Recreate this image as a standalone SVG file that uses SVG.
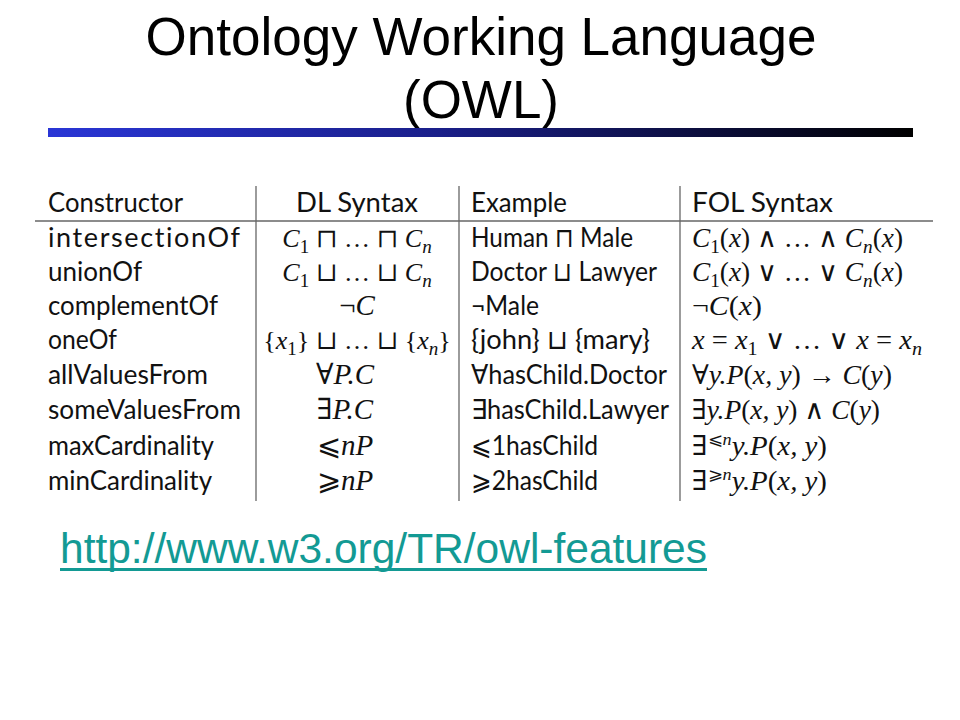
<svg xmlns="http://www.w3.org/2000/svg" width="960" height="720" viewBox="0 0 960 720">
<defs>
<linearGradient id="bar" x1="0" y1="0" x2="1" y2="0">
<stop offset="0" stop-color="#2a36d6"/>
<stop offset="0.45" stop-color="#1a1f8a"/>
<stop offset="1" stop-color="#000000"/>
</linearGradient>
<style>
.title{font-family:"Liberation Sans",Arial,sans-serif;font-size:53px;fill:#000;text-anchor:middle}
.s{font-family:Lato,"DejaVu Sans",sans-serif;font-size:27px;fill:#111;font-variant-ligatures:none;font-feature-settings:"liga" 0,"dlig" 0}
.m{font-family:"Liberation Serif","DejaVu Serif",serif;font-size:27px;font-style:italic;fill:#111}
.md{font-size:26px}
.mb{font-size:29px}
.u{font-style:normal}
.sub{font-size:19px;font-style:normal}
.subi{font-size:19px;font-style:italic}
.sup{font-size:17px}
.c{text-anchor:middle}
.rule{stroke:#666;stroke-width:1.3;fill:none}
.link{font-family:"Liberation Sans",Arial,sans-serif;font-size:42px;fill:#139a94}
</style>
</defs>
<rect width="960" height="720" fill="#fff"/>
<g id="title">
<text class="title" x="481" y="55">Ontology Working Language</text>
<text class="title" x="481" y="118">(OWL)</text>
</g>
<rect id="titlebar" x="48" y="128" width="865" height="9" fill="url(#bar)"/>
<g id="table">
<g id="grid">
<line class="rule" x1="35" y1="221" x2="933" y2="221"/>
<line class="rule" x1="256" y1="186" x2="256" y2="501"/>
<line class="rule" x1="459" y1="186" x2="459" y2="501"/>
<line class="rule" x1="680" y1="186" x2="680" y2="501"/>
</g>
<g id="header">
<text class="s" x="48" y="212" textLength="135" lengthAdjust="spacingAndGlyphs">Constructor</text>
<text class="s" x="296" y="212" textLength="122" lengthAdjust="spacingAndGlyphs">DL Syntax</text>
<text class="s" x="471" y="212" textLength="96" lengthAdjust="spacingAndGlyphs">Example</text>
<text class="s" x="692" y="212" textLength="141" lengthAdjust="spacingAndGlyphs">FOL Syntax</text>
</g>
<g id="col-constructor">
<text class="s" x="48" y="247" textLength="192" lengthAdjust="spacing">intersectionOf</text>
<text class="s" x="48" y="281" textLength="94" lengthAdjust="spacingAndGlyphs">unionOf</text>
<text class="s" x="48" y="315" textLength="170" lengthAdjust="spacingAndGlyphs">complementOf</text>
<text class="s" x="48" y="349" textLength="69" lengthAdjust="spacingAndGlyphs">oneOf</text>
<text class="s" x="48" y="384" textLength="160" lengthAdjust="spacingAndGlyphs">allValuesFrom</text>
<text class="s" x="48" y="419" textLength="193" lengthAdjust="spacingAndGlyphs">someValuesFrom</text>
<text class="s" x="48" y="455" textLength="166" lengthAdjust="spacingAndGlyphs">maxCardinality</text>
<text class="s" x="48" y="490" textLength="164" lengthAdjust="spacingAndGlyphs">minCardinality</text>
</g>
<g id="col-dl">
<text class="m md c" x="357" y="247">C<tspan class="sub" dy="6">1</tspan><tspan class="u" dy="-6"> ⊓ … ⊓ </tspan>C<tspan class="subi" dy="6">n</tspan></text>
<text class="m md c" x="357" y="281">C<tspan class="sub" dy="6">1</tspan><tspan class="u" dy="-6"> ⊔ … ⊔ </tspan>C<tspan class="subi" dy="6">n</tspan></text>
<text class="m mb c" x="357" y="315"><tspan class="u">¬</tspan>C</text>
<text class="m md c" x="357" y="349"><tspan class="u">{</tspan>x<tspan class="sub" dy="6">1</tspan><tspan class="u" dy="-6">} ⊔ … ⊔ {</tspan>x<tspan class="subi" dy="6">n</tspan><tspan class="u" dy="-6">}</tspan></text>
<text class="m mb c" x="345" y="384"><tspan class="u">∀</tspan>P.C</text>
<text class="m mb c" x="345" y="419"><tspan class="u">∃</tspan>P.C</text>
<text class="m mb c" x="345" y="455"><tspan class="u">⩽</tspan>nP</text>
<text class="m mb c" x="345" y="490"><tspan class="u">⩾</tspan>nP</text>
</g>
<g id="col-example">
<text class="s" x="471" y="247" textLength="162" lengthAdjust="spacingAndGlyphs">Human ⊓ Male</text>
<text class="s" x="471" y="281" textLength="186" lengthAdjust="spacingAndGlyphs">Doctor ⊔ Lawyer</text>
<text class="s" x="471" y="315" textLength="68" lengthAdjust="spacingAndGlyphs">¬Male</text>
<text class="s" x="471" y="349" textLength="179" lengthAdjust="spacingAndGlyphs">{john} ⊔ {mary}</text>
<text class="s" x="471" y="384" textLength="196" lengthAdjust="spacingAndGlyphs">∀hasChild.Doctor</text>
<text class="s" x="471" y="419" textLength="198" lengthAdjust="spacingAndGlyphs">∃hasChild.Lawyer</text>
<text class="s" x="471" y="455" textLength="127" lengthAdjust="spacingAndGlyphs">⩽1hasChild</text>
<text class="s" x="471" y="490" textLength="127" lengthAdjust="spacingAndGlyphs">⩾2hasChild</text>
</g>
<g id="col-fol">
<text class="m" x="692" y="247" textLength="211" lengthAdjust="spacingAndGlyphs">C<tspan class="sub" dy="6">1</tspan><tspan class="u" dy="-6">(</tspan>x<tspan class="u">) ∧ … ∧ </tspan>C<tspan class="subi" dy="6">n</tspan><tspan class="u" dy="-6">(</tspan>x<tspan class="u">)</tspan></text>
<text class="m" x="692" y="281" textLength="211" lengthAdjust="spacingAndGlyphs">C<tspan class="sub" dy="6">1</tspan><tspan class="u" dy="-6">(</tspan>x<tspan class="u">) ∨ … ∨ </tspan>C<tspan class="subi" dy="6">n</tspan><tspan class="u" dy="-6">(</tspan>x<tspan class="u">)</tspan></text>
<text class="m" x="692" y="315" textLength="70" lengthAdjust="spacingAndGlyphs"><tspan class="u">¬</tspan>C<tspan class="u">(</tspan>x<tspan class="u">)</tspan></text>
<text class="m" x="692" y="349" textLength="230" lengthAdjust="spacingAndGlyphs">x<tspan class="u"> = </tspan>x<tspan class="sub" dy="6">1</tspan><tspan class="u" dy="-6"> ∨ … ∨ </tspan>x<tspan class="u"> = </tspan>x<tspan class="subi" dy="6">n</tspan></text>
<text class="m" x="692" y="384" textLength="200" lengthAdjust="spacingAndGlyphs"><tspan class="u">∀</tspan>y.P<tspan class="u">(</tspan>x, y<tspan class="u">) → </tspan>C<tspan class="u">(</tspan>y<tspan class="u">)</tspan></text>
<text class="m" x="692" y="419" textLength="188" lengthAdjust="spacingAndGlyphs"><tspan class="u">∃</tspan>y.P<tspan class="u">(</tspan>x, y<tspan class="u">) ∧ </tspan>C<tspan class="u">(</tspan>y<tspan class="u">)</tspan></text>
<text class="m" x="692" y="455" textLength="135" lengthAdjust="spacingAndGlyphs"><tspan class="u">∃</tspan><tspan class="u sup" dy="-10">⩽</tspan><tspan class="sup">n</tspan><tspan dy="10">y.P</tspan><tspan class="u">(</tspan>x, y<tspan class="u">)</tspan></text>
<text class="m" x="692" y="490" textLength="135" lengthAdjust="spacingAndGlyphs"><tspan class="u">∃</tspan><tspan class="u sup" dy="-10">⩾</tspan><tspan class="sup">n</tspan><tspan dy="10">y.P</tspan><tspan class="u">(</tspan>x, y<tspan class="u">)</tspan></text>
</g>
</g>
<g id="link">
<text class="link" x="60" y="563" textLength="647" lengthAdjust="spacingAndGlyphs">http://www.w3.org/TR/owl-features</text>
<rect x="60" y="568" width="647" height="3" fill="#139a94"/>
</g>
</svg>
